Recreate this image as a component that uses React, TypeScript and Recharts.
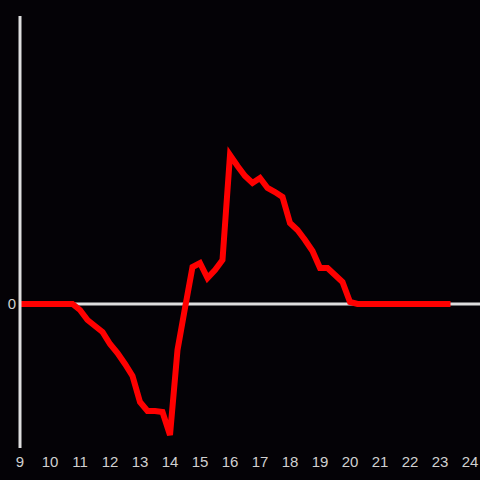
import React from 'react';
import { LineChart, Line, XAxis, YAxis, ReferenceLine } from 'recharts';

// quarter-hour samples, 9:00 .. 23:15
const hours: number[] = [
  9, 9.25, 9.5, 9.75, 10, 10.25, 10.5, 10.75,
  11, 11.25, 11.5, 11.75, 12, 12.25, 12.5, 12.75,
  13, 13.25, 13.5, 13.75, 14, 14.25, 14.5, 14.75,
  15, 15.25, 15.5, 15.75, 16, 16.25, 16.5, 16.75,
  17, 17.25, 17.5, 17.75, 18, 18.25, 18.5, 18.75,
  19, 19.25, 19.5, 19.75, 20, 20.25, 20.5, 20.75,
  21, 21.25, 21.5, 21.75, 22, 22.25, 22.5, 22.75,
  23, 23.25,
];

const values: number[] = [
  0, 0, 0, 0, 0, 0, 0, 0,
  -6, -16, -22, -28, -40, -49, -60, -72,
  -98, -107, -107, -108, -131, -46, -4, 37,
  41, 26, 34, 44, 149, 138, 128, 121,
  126, 116, 112, 107, 81, 74, 64, 53,
  36, 36, 29, 22, 2, 0, 0, 0,
  0, 0, 0, 0, 0, 0, 0, 0,
  0, 0,
];

const xTicks: number[] = [9, 10, 11, 12, 13, 14, 15, 16, 17, 18, 19, 20, 21, 22, 23, 24];
const yTicks: number[] = [0];

const data = hours.map((h, i) => ({ h, v: values[i] }));

const tickStyle = { fill: '#d0d0d0', fontSize: 15, fontFamily: '"Liberation Sans", Arial, sans-serif' };

export default function App() {
  return (
    <div style={{ position: 'fixed', left: 0, top: 0, width: 480, height: 480, background: '#040206' }}>
      <LineChart width={480} height={480} data={data} margin={{ top: 16, right: 0, bottom: 0, left: 0 }}>
        <XAxis
          dataKey="h"
          type="number"
          domain={[9, 24.3333]}
          ticks={xTicks}
          allowDataOverflow
          axisLine={false}
          tickLine={false}
          tickSize={0}
          tickMargin={8}
          height={32}
          tick={tickStyle}
          interval={0}
        />
        <YAxis
          type="number"
          domain={[-144, 288]}
          ticks={yTicks}
          width={20}
          axisLine={{ stroke: '#dedede', strokeWidth: 3 }}
          tickLine={false}
          tickSize={0}
          tickMargin={4}
          tick={tickStyle}
        />
        <ReferenceLine y={0} stroke="#dedede" strokeWidth={3} />
        <Line
          dataKey="v"
          stroke="#ff0000"
          strokeWidth={6}
          strokeLinecap="square"
          dot={false}
          activeDot={false}
          isAnimationActive={false}
        />
      </LineChart>
    </div>
  );
}
